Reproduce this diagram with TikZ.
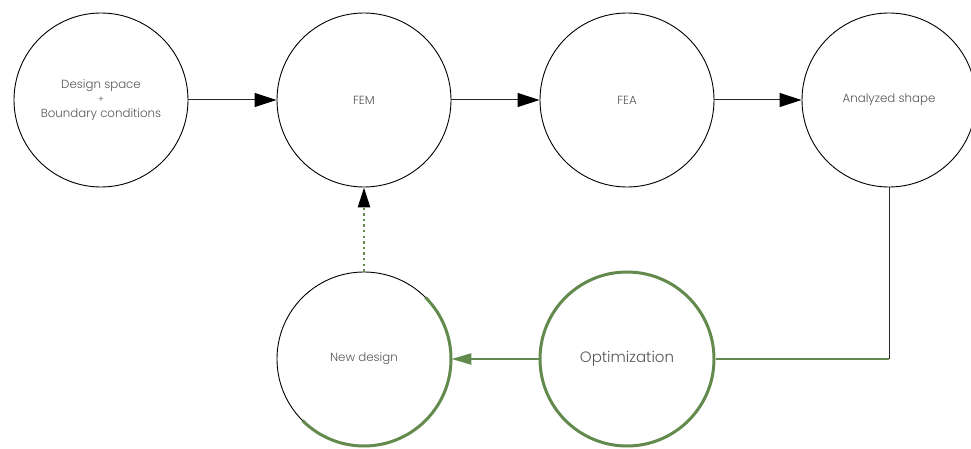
\documentclass[tikz,border=0pt]{standalone}
\usepackage{fontspec}
\setmainfont{Poppins Light}
\usetikzlibrary{arrows.meta}
\definecolor{leaf}{HTML}{628A4C}
\definecolor{ink}{HTML}{555555}
\tikzset{
  stage/.style={circle, draw=black, line width=0.9pt, minimum size=174pt, inner sep=0pt,
                text=ink, font=\fontsize{11.8}{15}\selectfont, align=center},
  optstage/.style={stage, draw=leaf, line width=3pt, font=\fontsize{15}{18}\selectfont},
  flow/.style={draw=black!85, line width=1pt, -{Triangle[length=22pt,width=14pt,color=black]}},
  feedback/.style={draw=leaf, line width=2.4pt, dash pattern=on 2.4pt off 3.2pt, -{Triangle[length=20pt,width=12pt,color=black]}},
  greenflow/.style={draw=leaf, line width=2.4pt, -{Triangle[length=20pt,width=11pt]}},
}
\begin{document}
\begin{tikzpicture}[x=1pt,y=1pt]
\useasboundingbox (0,0) rectangle (971,448);
\clip (0,0) rectangle (971,448);

% top row of stages
\node[stage] (design)   at (101,348) {Design space\\[-1pt]{\fontsize{9}{10}\selectfont +}\\[0pt]Boundary conditions};
\node[stage] (fem)      at (364,348) {FEM};
\node[stage] (fea)      at (627,348) {FEA};
\node[stage] (analyzed) at (889,348) {Analyzed shape};

% bottom row of stages
\node[stage]    (newd) at (364,89) {New design};
\node[optstage] (opt)  at (627,89) {Optimization};

% highlighted half of the new-design ring
\draw[leaf, line width=3pt] (newd.center) ++(45:87) arc[start angle=45, end angle=-135, radius=87];

% forward chain
\draw[flow] (design) -- (fem);
\draw[flow] (fem) -- (fea);
\draw[flow] (fea) -- (analyzed);

% route from the analysis back down to optimization
\coordinate (turn) at (analyzed.south |- opt.east);
\draw[black!85, line width=0.9pt] (analyzed.south) -- (turn);
\draw[leaf, line width=2.4pt] (turn) -- (opt.east);

% optimization feeds the new design, which loops back to the model
\draw[greenflow] (opt.west) -- (newd.east);
\draw[feedback] (newd.north) -- (fem.south);
\end{tikzpicture}
\end{document}
